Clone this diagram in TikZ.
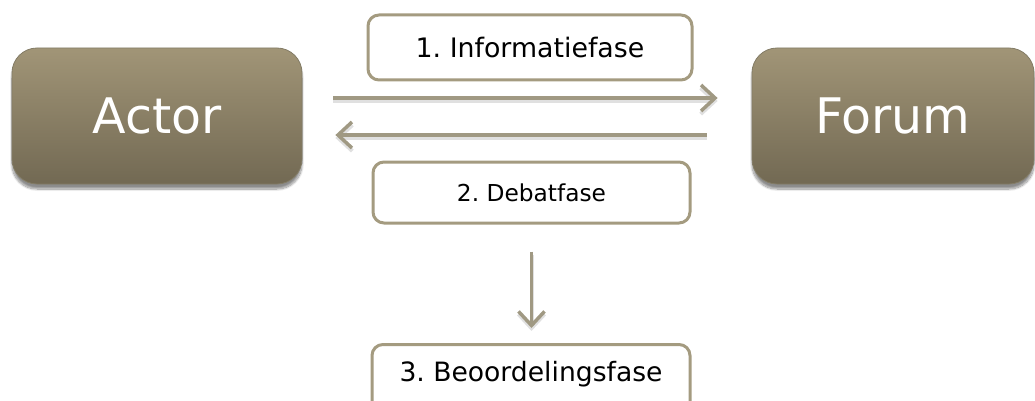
\documentclass[tikz,border=0pt]{standalone}
\usepackage{fontspec}
\setmainfont{DejaVu Sans}
\usetikzlibrary{arrows.meta,shadows.blur}
\frenchspacing

\definecolor{tanborder}{RGB}{164,155,128}
\definecolor{tantop}{RGB}{161,149,119}
\definecolor{tanbottom}{RGB}{114,105,83}
\definecolor{arrowtan}{RGB}{160,153,131}

\tikzset{
  partybox/.style={rectangle, rounded corners=25pt, draw=tanborder!80!black, line width=0.8pt,
    top color=tantop, bottom color=tanbottom, text=white, inner sep=0pt,
    font=\fontsize{49}{58}\selectfont, text height=35.5pt, text depth=0pt,
    blur shadow={shadow xshift=0pt, shadow yshift=-5pt, shadow blur steps=12, shadow opacity=45}},
  phasebox/.style={rectangle, rounded corners=11pt, draw=tanborder, line width=3pt,
    fill=white, text=black, inner sep=0pt, text depth=0pt},
  flow/.style={draw=arrowtan, line width=3.5pt,
    -{Straight Barb[length=14pt, width=26pt]},
    preaction={draw=black, draw opacity=0.12, line width=4pt, transform canvas={yshift=-3pt},
      -{Straight Barb[length=14pt, width=26pt]}}}
}

\begin{document}
\begin{tikzpicture}[x=1pt, y=-1pt]
  \useasboundingbox (0,0) rectangle (1035,401);
  \clip (0,0) rectangle (1035,401);

  % the two parties
  \node[partybox, minimum width=290pt, minimum height=136pt] (actor) at (157,116) {Actor};
  \node[partybox, minimum width=282pt, minimum height=136pt] (forum) at (893,116) {Forum};

  % the three phases
  \node[phasebox, minimum width=324pt, minimum height=65pt, text height=19.5pt,
        font=\fontsize{26.8}{32}\selectfont] (info) at (530,47.5) {1. Informatiefase};
  \node[phasebox, minimum width=317pt, minimum height=61pt, text height=17pt,
        font=\fontsize{23.3}{28}\selectfont] (debat) at (531.5,192.5) {2. Debatfase};
  \node[phasebox, minimum width=318pt, minimum height=70pt, anchor=north, text height=19pt,
        font=\fontsize{26.6}{32}\selectfont] (beoor) at (531,343) {\raisebox{8pt}{3. Beoordelingsfase}};

  % exchanges between actor and forum
  \draw[flow, shorten <=31pt, shorten >=34pt]
    ([yshift=18pt]actor.east) -- ([yshift=18pt]forum.west);
  \draw[flow, shorten <=45pt, shorten >=33pt]
    ([yshift=-19pt]forum.west) -- ([yshift=-19pt]actor.east);

  % towards the judgement
  \draw[flow, shorten <=27pt, shorten >=15pt]
    (debat.south) -- (debat.south |- beoor.north);
\end{tikzpicture}
\end{document}
